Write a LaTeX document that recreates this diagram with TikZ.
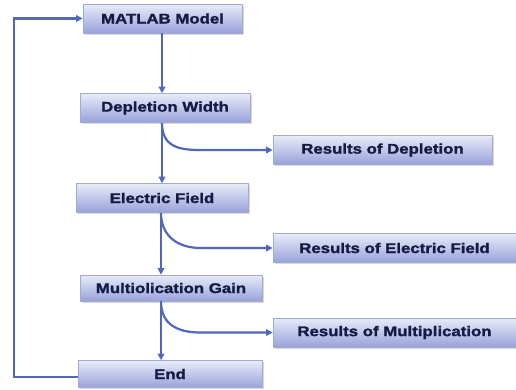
\documentclass[tikz,border=0pt]{standalone}
\usepackage{fontspec}
\setmainfont{Liberation Sans}[FakeStretch=1.2, BoldFeatures={FakeBold=1.6}]
\usetikzlibrary{shadows,arrows.meta}
\definecolor{linec}{HTML}{5266BC}
\definecolor{boxtop}{HTML}{E9EBF9}
\definecolor{boxbot}{HTML}{98A2DA}
\definecolor{boxedge}{HTML}{A3A9CF}
\definecolor{txtc}{HTML}{161B45}
\tikzset{
  flowbox/.style={rectangle, minimum height=#1, inner sep=0pt,
    top color=boxtop, bottom color=boxbot, draw=boxedge, line width=0.6pt,
    drop shadow={shadow xshift=1.5pt, shadow yshift=-1.5pt, opacity=0.3},
    font=\fontsize{14}{16}\selectfont\bfseries, text=txtc},
  flowbox/.default=29pt,
  arr/.style={draw=linec, line width=2.2pt, -{Triangle[length=6.5pt,width=6.5pt]}}
}
\begin{document}
\begin{tikzpicture}[x=1pt,y=-1pt]
\useasboundingbox (0,0) rectangle (516,389);
\node[flowbox, minimum width=159pt] (m) at (162.5,18.5) {MATLAB Model};
\node[flowbox, minimum width=170pt] (d) at (165,108) {Depletion Width};
\node[flowbox, minimum width=172pt] (e) at (162,198) {Electric Field};
\node[flowbox, minimum width=182pt, minimum height=26pt] (g) at (171,288) {Multiolication Gain};
\node[flowbox, minimum width=184pt, minimum height=27pt] (n) at (170,374) {End};
\node[flowbox, minimum width=219pt] (r1) at (382.5,150) {Results of Depletion};
\node[flowbox, minimum width=243pt] (r2) at (394.5,248) {Results of Electric Field};
\node[flowbox, minimum width=243pt] (r3) at (394.5,332.5) {Results of Multiplication};
\coordinate (sp) at (162,0);
\coordinate (sp2) at (161,0);
\coordinate (fb) at (14,0);
% spine
\draw[arr] (m.south -| sp) -- (d.north -| sp);
\draw[arr] (d.south -| sp) -- (e.north -| sp);
\draw[arr] (e.south -| sp2) -- (g.north -| sp2);
\draw[arr] (g.south -| sp2) -- (n.north -| sp2);
% branches
\draw[arr] (d.south -| sp) .. controls +(0,24) and +(-22,0) .. ([xshift=-72pt]r1.west) -- (r1.west);
\draw[arr] (e.south -| sp2) .. controls +(0,24) and +(-22,0) .. ([xshift=-72pt]r2.west) -- (r2.west);
\draw[arr] (g.south -| sp2) .. controls +(0,24) and +(-22,0) .. ([xshift=-72pt]r3.west) -- (r3.west);
% feedback
\draw[arr] ([yshift=-3pt]n.west) -| (fb |- m.west) -- (m.west);
\end{tikzpicture}
\end{document}
